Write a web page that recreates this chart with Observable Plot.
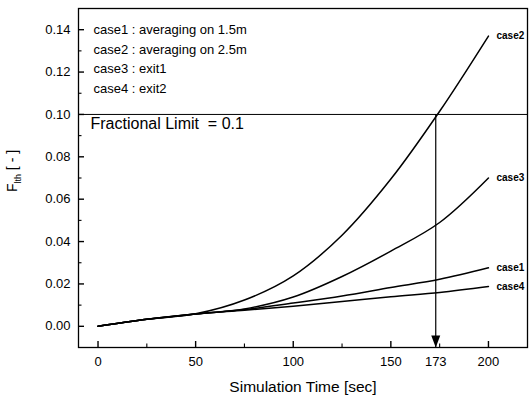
<!DOCTYPE html>
<html><head><meta charset="utf-8">
<script src="https://cdn.jsdelivr.net/npm/d3@7"></script>
<script src="https://cdn.jsdelivr.net/npm/@observablehq/plot@0.6"></script>
<style>
body{margin:0;background:#fff}
svg{display:block}
</style>
</head><body><div id="chart"></div>
<script>
const times = [0, 25, 50, 75, 100, 125, 150, 175, 200];
const case1 = [0, 0.0033, 0.0058, 0.0079, 0.0110, 0.0143, 0.0183, 0.0222, 0.0276];
const case2 = [0, 0.0033, 0.0059, 0.0124, 0.0238, 0.0430, 0.0695, 0.1015, 0.137];
const case3 = [0, 0.0033, 0.0058, 0.0082, 0.0138, 0.0235, 0.0355, 0.0490, 0.070];
const case4 = [0, 0.0033, 0.0058, 0.0076, 0.0095, 0.0117, 0.0140, 0.0160, 0.0188];
const seriesNames = ["case1", "case2", "case3", "case4"];
const seriesValues = [case1, case2, case3, case4];
const legendLines = ["case1 : averaging on 1.5m", "case2 : averaging on 2.5m", "case3 : exit1", "case4 : exit2"];
const xMajorTicks = [0, 50, 100, 150, 200];
const xMinorTicks = [25, 75, 125, 175];
const xTickLabels = [0, 50, 100, 150, 173, 200];
const yMajorTicks = [0, 0.02, 0.04, 0.06, 0.08, 0.10, 0.12, 0.14];
const yMinorTicks = [0.01, 0.03, 0.05, 0.07, 0.09, 0.11, 0.13];
const limitValue = 0.1;
const limitTime = 173;
const limitLabel = "Fractional Limit  = 0.1";
const xLabel = "Simulation Time [sec]";
const yLabelMain = "F";
const yLabelSub = "lth";
const yLabelUnit = " [ - ]";
const xDomain = [-10, 220];
const yDomain = [-0.01, 0.15];

const W = 529, H = 395, mL = 78, mR = 2, mT = 8, mB = 48;
const xPerPx = (xDomain[1] - xDomain[0]) / (W - mL - mR);
const yPerPx = (yDomain[1] - yDomain[0]) / (H - mT - mB);

const rows = seriesNames.flatMap((s, k) => times.map((t, i) => ({series: s, time: t, value: seriesValues[k][i]})));

const arrowHead = {
  draw(context) {
    context.moveTo(-4.5, -12);
    context.lineTo(4.5, -12);
    context.lineTo(0, 0);
    context.closePath();
  }
};

const font = "Arial, 'Liberation Sans', Helvetica, sans-serif";

const plot = Plot.plot({
  width: W,
  height: H,
  marginLeft: mL,
  marginRight: mR,
  marginTop: mT,
  marginBottom: mB,
  style: {fontFamily: font, fontSize: "13px", color: "#000", background: "#fff"},
  x: {domain: xDomain},
  y: {domain: yDomain},
  marks: [
    Plot.frame({stroke: "#000", strokeWidth: 1.3}),
    Plot.ruleX(xMajorTicks, {x: d => d, y1: yDomain[0], y2: yDomain[0] + 6 * yPerPx, stroke: "#000", strokeWidth: 1.4}),
    Plot.ruleX(xMinorTicks, {x: d => d, y1: yDomain[0], y2: yDomain[0] + 3.5 * yPerPx, stroke: "#000", strokeWidth: 1.1}),
    Plot.ruleY(yMajorTicks, {y: d => d, x1: xDomain[0], x2: xDomain[0] + 6 * xPerPx, stroke: "#000", strokeWidth: 1.4}),
    Plot.ruleY(yMinorTicks, {y: d => d, x1: xDomain[0], x2: xDomain[0] + 3.5 * xPerPx, stroke: "#000", strokeWidth: 1.1}),
    Plot.axisX({ticks: xTickLabels, tickSize: 0, tickPadding: 9, label: null, fontSize: 13}),
    Plot.axisY({ticks: yMajorTicks, tickSize: 0, tickPadding: 8, tickFormat: d3.format(".2f"), label: null, fontSize: 13}),
    Plot.ruleY([limitValue], {stroke: "#000", strokeWidth: 1}),
    Plot.ruleX([limitTime], {y1: limitValue, y2: yDomain[0], stroke: "#000", strokeWidth: 1.2}),
    Plot.dot([limitTime], {x: d => d, y: yDomain[0], symbol: arrowHead, fill: "#000", stroke: "none"}),
    Plot.lineY(rows, {x: "time", y: "value", z: "series", curve: "catmull-rom", stroke: "#000", strokeWidth: 1.5}),
    Plot.text(rows, Plot.selectLast({x: "time", y: "value", z: "series", text: "series", dx: 8, textAnchor: "start", fontSize: 10, fontWeight: "bold", fill: "#000", style: "letter-spacing:0.4px"})),
    Plot.text([legendLines.join("\n")], {frameAnchor: "top-left", dx: 15, dy: 12, lineAnchor: "top", lineHeight: 1.5, fontSize: 13, fill: "#000", textAnchor: "start"}),
    Plot.text([limitLabel], {x: xDomain[0], y: limitValue, dx: 12, dy: 3, lineAnchor: "top", textAnchor: "start", fontSize: 16, fill: "#000"}),
    Plot.text([xLabel], {frameAnchor: "bottom", dy: 44, fontSize: 15.5, fill: "#000"})
  ]
});

const svg = d3.select(plot);
const yl = svg.append("text")
  .attr("transform", "translate(17,171) rotate(-90)")
  .attr("text-anchor", "middle")
  .attr("font-family", font)
  .attr("font-size", 14)
  .attr("fill", "#000");
yl.append("tspan").text(yLabelMain);
yl.append("tspan").attr("font-size", 9).attr("dy", 4).text(yLabelSub);
yl.append("tspan").attr("dy", -4).text(yLabelUnit);

document.getElementById("chart").append(plot);
</script>
</body></html>
